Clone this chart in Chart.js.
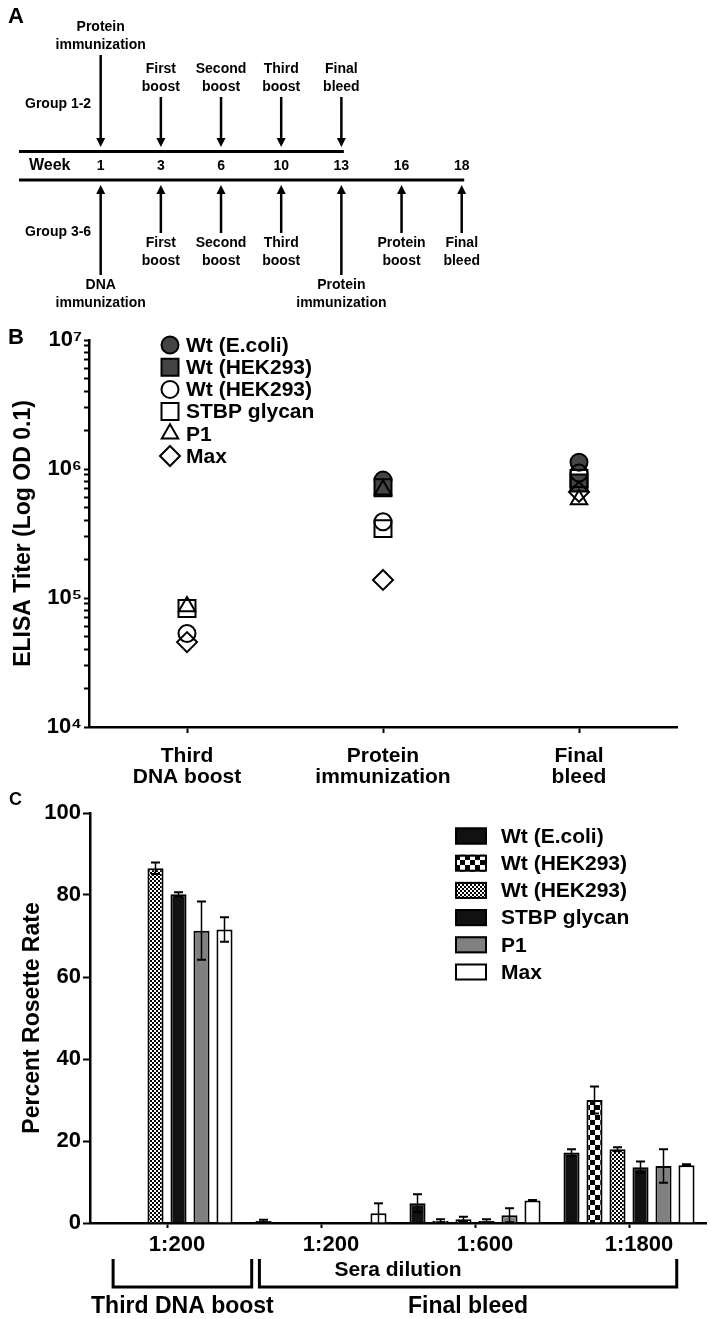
<!DOCTYPE html>
<html>
<head>
<meta charset="utf-8">
<script src="https://cdn.jsdelivr.net/npm/chart.js@4.4.1/dist/chart.umd.min.js"></script>
<style>
  html, body { margin: 0; padding: 0; background: #fff; }
  body { width: 711px; height: 1319px; position: relative; overflow: hidden; }
  canvas { position: absolute; left: 0; }
  #schedule { top: 0; }
  #titer { top: 320px; }
  #rosette { top: 790px; }
</style>
</head>
<body>
<canvas id="schedule" width="711" height="320"></canvas>
<canvas id="titer" width="711" height="470"></canvas>
<canvas id="rosette" width="711" height="529"></canvas>
<script>
// ─── Panel A: immunization schedule ───
const weeks = ['1', '3', '6', '10', '13', '16', '18'];
const group12Events = [['Protein', 'immunization'], ['First', 'boost'], ['Second', 'boost'], ['Third', 'boost'], ['Final', 'bleed'], null, null];
const group36Events = [['DNA', 'immunization'], ['First', 'boost'], ['Second', 'boost'], ['Third', 'boost'], ['Protein', 'immunization'], ['Protein', 'boost'], ['Final', 'bleed']];

// ─── Panel B: ELISA titers ───
const titerCategories = [['Third', 'DNA boost'], ['Protein', 'immunization'], ['Final', 'bleed']];
const titerEcoli = [null, 820000, 1130000];
const titerHekFilled = [null, 715000, 780000];
const titerHekOpen = [53000, 390000, 930000];
const titerStbp = [83000, 345000, 845000];
const titerP1 = [86000, 690000, 580000];
const titerMax = [45500, 138000, 664000];
const titerDecades = [1e4, 1e5, 1e6, 1e7];
const titerTickLabels = ['10⁴', '10⁵', '10⁶', '10⁷'];

// ─── Panel C: rosette rate ───
const dilutions = ['1:200', '1:200', '1:600', '1:1800'];
const rosetteEcoli = [null, 0.5, 4.8, 17.2];
const rosetteEcoliErr = [null, 0.3, 2.2, 0.8];
const rosetteHekChecker = [null, 0, 0.5, 30.0];
const rosetteHekCheckerErr = [null, 0, 0.4, 3.3];
const rosetteHekFine = [86.5, 0, 0.9, 18.0];
const rosetteHekFineErr = [1.4, 0, 0.6, 0.5];
const rosetteStbp = [80.2, 0, 0.5, 13.6];
const rosetteStbpErr = [0.5, 0, 0.4, 1.4];
const rosetteP1 = [71.3, 0, 1.9, 13.9];
const rosetteP1Err = [7.1, 0, 1.7, 4.1];
const rosetteMax = [71.6, 2.4, 5.5, 14.1];
const rosetteMaxErr = [3.0, 2.4, 0.1, 0.2];
const bleedGroups = ['Third DNA boost', 'Final bleed'];

const FAMILY = "'Liberation Sans', Arial, Helvetica, sans-serif";
const font = (px) => `bold ${px}px ${FAMILY}`;

Chart.defaults.font.family = FAMILY;
Chart.defaults.font.weight = 'bold';
Chart.defaults.color = '#000';
Chart.defaults.plugins.legend.display = false;
Chart.defaults.plugins.tooltip.enabled = false;

const baseOptions = {
    responsive: false,
    animation: false,
    devicePixelRatio: 1,
};

// ─── Panel A ───
const drawArrow = (ctx, x, tail, tip) => {
    const dir = tip > tail ? 1 : -1;
    ctx.beginPath();
    ctx.moveTo(x, tail);
    ctx.lineTo(x, tip - dir * 6);
    ctx.stroke();
    ctx.beginPath();
    ctx.moveTo(x, tip);
    ctx.lineTo(x - 4.5, tip - dir * 9);
    ctx.lineTo(x + 4.5, tip - dir * 9);
    ctx.closePath();
    ctx.fill();
};

const schedulePlugin = {
    id: 'schedule',
    afterDraw(chart) {
        const { ctx } = chart;
        const px = (i) => chart.scales.x.getPixelForValue(i);
        ctx.save();
        ctx.fillStyle = '#000';
        ctx.strokeStyle = '#000';
        ctx.textBaseline = 'middle';

        ctx.font = font(22);
        ctx.textAlign = 'left';
        ctx.fillText('A', 8, 17);

        // time lines
        let lastTop = 0;
        group12Events.forEach((ev, i) => { if (ev) lastTop = i; });
        ctx.lineWidth = 3;
        ctx.beginPath();
        ctx.moveTo(19, 151.5);
        ctx.lineTo(px(lastTop) + 2.5, 151.5);
        ctx.moveTo(19, 180);
        ctx.lineTo(px(weeks.length - 1) + 2.5, 180);
        ctx.stroke();

        ctx.font = font(16);
        ctx.fillText('Week', 29, 166);
        ctx.font = font(14);
        ctx.fillText('Group 1-2', 25, 104);
        ctx.fillText('Group 3-6', 25, 232);

        ctx.textAlign = 'center';
        weeks.forEach((w, i) => ctx.fillText(w, px(i), 166));

        ctx.lineWidth = 2.5;
        group12Events.forEach((ev, i) => {
            if (!ev) return;
            const tail = ev[1] === 'immunization' ? 55 : 97;
            drawArrow(ctx, px(i), tail, 147);
            ctx.fillText(ev[0], px(i), tail - 28);
            ctx.fillText(ev[1], px(i), tail - 10);
        });
        group36Events.forEach((ev, i) => {
            if (!ev) return;
            const tail = ev[1] === 'immunization' ? 275 : 233;
            drawArrow(ctx, px(i), tail, 185);
            ctx.fillText(ev[0], px(i), tail + 10);
            ctx.fillText(ev[1], px(i), tail + 28);
        });
        ctx.restore();
    }
};

new Chart(document.getElementById('schedule'), {
    type: 'line',
    data: { labels: weeks, datasets: [] },
    options: {
        ...baseOptions,
        layout: { padding: { left: 70.6, right: 219.2, top: 0, bottom: 0 } },
        scales: {
            x: { display: false, offset: true },
            y: { display: false }
        }
    },
    plugins: [schedulePlugin]
});

// ─── Panel B ───
const markerLegendPlugin = {
    id: 'markerLegend',
    afterDraw(chart) {
        const { ctx, chartArea } = chart;
        ctx.save();
        ctx.textBaseline = 'middle';
        ctx.textAlign = 'left';
        chart.data.datasets.forEach((ds, i) => {
            const x = chartArea.left + 81;
            const y = chartArea.top + 5 + i * 22.2;
            ctx.fillStyle = ds.pointBackgroundColor;
            ctx.strokeStyle = ds.pointBorderColor;
            ctx.lineWidth = ds.pointBorderWidth;
            Chart.helpers.drawPoint(ctx, {
                pointStyle: ds.pointStyle,
                radius: ds.pointRadius,
                rotation: 0,
                borderWidth: ds.pointBorderWidth
            }, x, y);
            ctx.fillStyle = '#000';
            ctx.font = font(21);
            ctx.fillText(ds.label, x + 16, y + 1);
        });
        ctx.font = font(22);
        ctx.fillText('B', 8, 18);
        ctx.restore();
    }
};

const openMarker = (label, data, pointStyle, pointRadius) => ({
    label, data, pointStyle, pointRadius,
    showLine: false,
    pointBackgroundColor: 'rgba(0,0,0,0)',
    pointBorderColor: '#000',
    pointBorderWidth: 2,
    order: 0
});

new Chart(document.getElementById('titer'), {
    type: 'line',
    data: {
        labels: titerCategories,
        datasets: [
            {
                label: 'Wt (E.coli)', data: titerEcoli, pointStyle: 'circle', pointRadius: 8.5,
                showLine: false, pointBackgroundColor: '#444', pointBorderColor: '#000', pointBorderWidth: 2, order: 2
            },
            {
                label: 'Wt (HEK293)', data: titerHekFilled, pointStyle: 'rect', pointRadius: 12,
                showLine: false, pointBackgroundColor: '#444', pointBorderColor: '#000', pointBorderWidth: 2, order: 1
            },
            openMarker('Wt (HEK293)', titerHekOpen, 'circle', 8.5),
            openMarker('STBP glycan', titerStbp, 'rect', 12),
            openMarker('P1', titerP1, 'triangle', 9.5),
            openMarker('Max', titerMax, 'rectRot', 10)
        ]
    },
    options: {
        ...baseOptions,
        layout: { padding: { left: 0, right: 34, top: 20, bottom: 0 } },
        scales: {
            x: {
                offset: true,
                grid: { offset: false, drawOnChartArea: false, tickLength: 6, tickWidth: 2, tickColor: '#000' },
                border: { color: '#000', width: 2.5 },
                ticks: { font: { size: 21, weight: 'bold', lineHeight: 1 }, color: '#000', padding: 13, maxRotation: 0, autoSkip: false },
                afterFit(scale) { scale.height = 63; }
            },
            y: {
                type: 'logarithmic',
                min: titerDecades[0],
                max: titerDecades[titerDecades.length - 1],
                afterBuildTicks(scale) {
                    const ticks = [];
                    titerDecades.forEach((d, i) => {
                        ticks.push({ value: d, major: true });
                        if (i < titerDecades.length - 1) {
                            for (let k = 2; k <= 9; k++) ticks.push({ value: d * k, major: false });
                        }
                    });
                    scale.ticks = ticks;
                },
                grid: { drawOnChartArea: false, tickLength: 5, tickWidth: 2, tickColor: '#000' },
                border: { color: '#000', width: 2.5 },
                ticks: {
                    autoSkip: false,
                    padding: 2,
                    font: { size: 22, weight: 'bold' },
                    color: '#000',
                    callback: (value) => {
                        const idx = titerDecades.indexOf(value);
                        return idx >= 0 ? titerTickLabels[idx] : '';
                    }
                },
                title: {
                    display: true,
                    text: 'ELISA Titer (Log OD 0.1)',
                    font: { size: 23, weight: 'bold' },
                    color: '#000',
                    padding: { top: 10, bottom: 0 }
                },
                afterFit(scale) { scale.width = 89; }
            }
        }
    },
    plugins: [markerLegendPlugin]
});

// ─── Panel C ───
const checkerPattern = (cell) => {
    const tile = document.createElement('canvas');
    tile.width = tile.height = cell * 2;
    const g = tile.getContext('2d');
    g.fillStyle = '#fff';
    g.fillRect(0, 0, cell * 2, cell * 2);
    g.fillStyle = '#000';
    g.fillRect(0, 0, cell, cell);
    g.fillRect(cell, cell, cell, cell);
    return g.createPattern(tile, 'repeat');
};
const bigChecker = checkerPattern(5);
const fineChecker = checkerPattern(2);

const errorBarPlugin = {
    id: 'errorBars',
    afterDatasetsDraw(chart) {
        const { ctx } = chart;
        const ys = chart.scales.y;
        ctx.save();
        ctx.strokeStyle = '#000';
        chart.data.datasets.forEach((ds, i) => {
            const meta = chart.getDatasetMeta(i);
            meta.data.forEach((bar, j) => {
                const v = ds.data[j];
                const e = ds.errors[j];
                if (v == null || !e) return;
                const top = ys.getPixelForValue(v + e);
                const bot = ys.getPixelForValue(Math.max(v - e, 0));
                ctx.lineWidth = 1.5;
                ctx.beginPath();
                ctx.moveTo(bar.x, top);
                ctx.lineTo(bar.x, bot);
                ctx.stroke();
                ctx.lineWidth = 2;
                ctx.beginPath();
                ctx.moveTo(bar.x - 4.5, top);
                ctx.lineTo(bar.x + 4.5, top);
                if (v - e > 0) {
                    ctx.moveTo(bar.x - 4.5, bot);
                    ctx.lineTo(bar.x + 4.5, bot);
                }
                ctx.stroke();
            });
        });
        ctx.restore();
    }
};

// bracket spans in category units, one per entry of bleedGroups
const bracketSpans = [[-0.35, 0.55], [0.6, 3.31]];

const rosetteDecorPlugin = {
    id: 'rosetteDecor',
    afterDraw(chart) {
        const { ctx } = chart;
        const xs = chart.scales.x;
        ctx.save();
        ctx.fillStyle = '#000';
        ctx.strokeStyle = '#000';
        ctx.textBaseline = 'middle';

        // legend
        ctx.textAlign = 'left';
        chart.data.datasets.forEach((ds, i) => {
            const y = 46 + i * 27.2;
            ctx.fillStyle = ds.backgroundColor;
            ctx.fillRect(455, y - 8.5, 32, 17);
            ctx.lineWidth = 2;
            ctx.strokeRect(456, y - 7.5, 30, 15);
            ctx.fillStyle = '#000';
            ctx.font = font(21);
            ctx.fillText(ds.label, 501, y + 1);
        });

        // brackets under the axis
        ctx.lineWidth = 3;
        ctx.textAlign = 'center';
        ctx.font = font(23);
        bleedGroups.forEach((label, i) => {
            const l = xs.getPixelForValue(bracketSpans[i][0]);
            const r = xs.getPixelForValue(bracketSpans[i][1]);
            ctx.beginPath();
            ctx.moveTo(l, 469);
            ctx.lineTo(l, 497);
            ctx.lineTo(r, 497);
            ctx.lineTo(r, 469);
            ctx.stroke();
            ctx.fillText(label, (l + r) / 2, 517);
        });

        ctx.textAlign = 'left';
        ctx.font = font(18);
        ctx.fillText('C', 9, 10);
        ctx.restore();
    }
};

const rosetteBar = (label, data, errors, backgroundColor) => ({
    label, data, errors, backgroundColor,
    borderColor: '#000',
    borderWidth: 2,
    borderSkipped: 'start',
    categoryPercentage: 0.896,
    barPercentage: 0.7
});

new Chart(document.getElementById('rosette'), {
    type: 'bar',
    data: {
        labels: dilutions,
        datasets: [
            rosetteBar('Wt (E.coli)', rosetteEcoli, rosetteEcoliErr, '#111'),
            rosetteBar('Wt (HEK293)', rosetteHekChecker, rosetteHekCheckerErr, bigChecker),
            rosetteBar('Wt (HEK293)', rosetteHekFine, rosetteHekFineErr, fineChecker),
            rosetteBar('STBP glycan', rosetteStbp, rosetteStbpErr, '#111'),
            rosetteBar('P1', rosetteP1, rosetteP1Err, '#808080'),
            rosetteBar('Max', rosetteMax, rosetteMaxErr, '#fff')
        ]
    },
    options: {
        ...baseOptions,
        layout: { padding: { left: 0, right: 5, top: 23, bottom: 0 } },
        scales: {
            x: {
                offset: true,
                grid: { offset: false, drawOnChartArea: false, tickLength: 5, tickWidth: 2, tickColor: '#000' },
                border: { color: '#000', width: 2.5 },
                ticks: { font: { size: 22, weight: 'bold' }, color: '#000', padding: 4, labelOffset: 10, maxRotation: 0, autoSkip: false },
                title: {
                    display: true,
                    text: 'Sera dilution',
                    font: { size: 21, weight: 'bold' },
                    color: '#000',
                    padding: { top: 0, bottom: 36 }
                },
                afterFit(scale) { scale.height = 96; }
            },
            y: {
                min: 0,
                max: 100,
                grid: { drawOnChartArea: false, tickLength: 7, tickWidth: 2, tickColor: '#000' },
                border: { color: '#000', width: 2.5 },
                ticks: { stepSize: 20, padding: 2, font: { size: 22, weight: 'bold' }, color: '#000' },
                title: {
                    display: true,
                    text: 'Percent Rosette Rate',
                    font: { size: 23, weight: 'bold' },
                    color: '#000',
                    padding: { top: 19, bottom: 0 }
                },
                afterFit(scale) { scale.width = 90; }
            }
        }
    },
    plugins: [errorBarPlugin, rosetteDecorPlugin]
});
</script>
</body>
</html>
